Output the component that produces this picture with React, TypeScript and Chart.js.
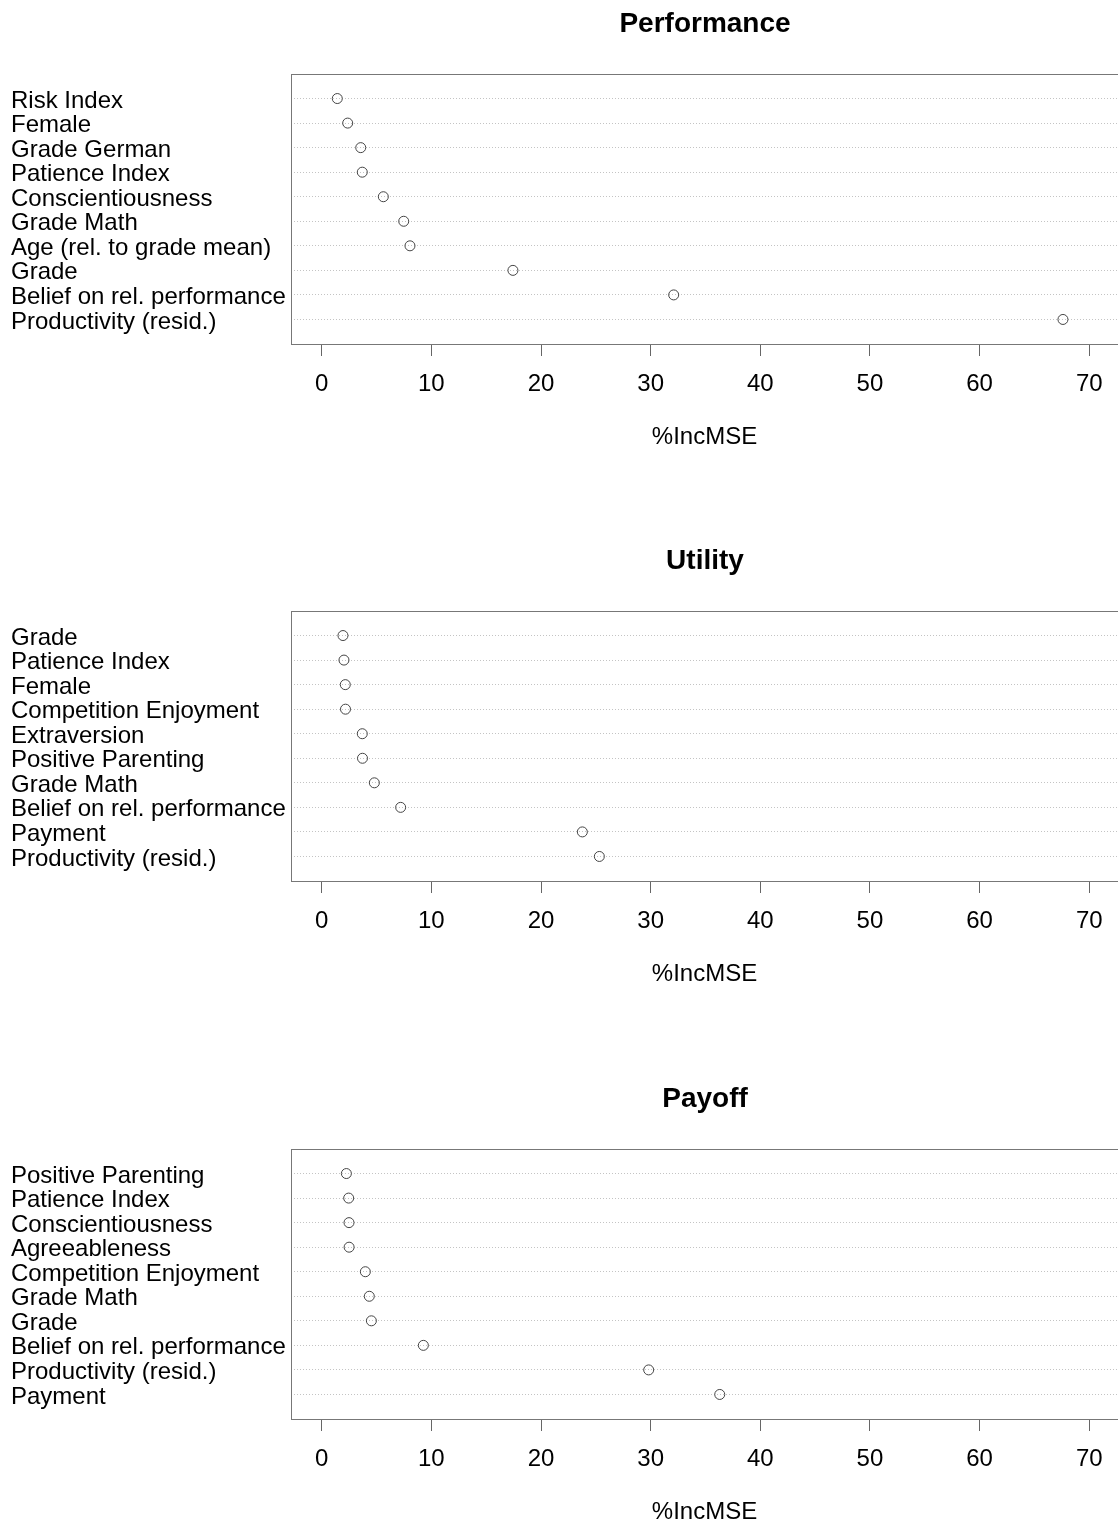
import React, { useEffect, useRef } from "react";
import { Chart, registerables } from "chart.js";

Chart.register(...registerables);

const FONT = "'Liberation Sans', Arial, Helvetica, sans-serif";

const xTickValues = [0, 10, 20, 30, 40, 50, 60, 70];
const xAxisTitle = "%IncMSE";

const perfTitle = "Performance";
const perfLabels = [
  "Risk Index",
  "Female",
  "Grade German",
  "Patience Index",
  "Conscientiousness",
  "Grade Math",
  "Age (rel. to grade mean)",
  "Grade",
  "Belief on rel. performance",
  "Productivity (resid.)",
];
const perfValues = [1.42, 2.37, 3.56, 3.7, 5.62, 7.48, 8.05, 17.44, 32.1, 67.6];

const utilTitle = "Utility";
const utilLabels = [
  "Grade",
  "Patience Index",
  "Female",
  "Competition Enjoyment",
  "Extraversion",
  "Positive Parenting",
  "Grade Math",
  "Belief on rel. performance",
  "Payment",
  "Productivity (resid.)",
];
const utilValues = [1.94, 2.03, 2.15, 2.17, 3.7, 3.72, 4.8, 7.2, 23.77, 25.32];

const payTitle = "Payoff";
const payLabels = [
  "Positive Parenting",
  "Patience Index",
  "Conscientiousness",
  "Agreeableness",
  "Competition Enjoyment",
  "Grade Math",
  "Grade",
  "Belief on rel. performance",
  "Productivity (resid.)",
  "Payment",
];
const payValues = [2.25, 2.46, 2.49, 2.5, 3.98, 4.34, 4.53, 9.27, 29.82, 36.3];

const CANVAS_W = 1118;
const CANVAS_H = 474;

function boxPlugin(title: string) {
  return {
    id: "boxAndTitle",
    afterDraw(chart: any) {
      const { ctx, chartArea } = chart;
      ctx.save();
      ctx.strokeStyle = "#777";
      ctx.lineWidth = 1;
      // plot frame; its right side lies just past the canvas edge, as in the reference
      ctx.strokeRect(
        Math.round(chartArea.left) + 0.5,
        Math.round(chartArea.top) + 0.5,
        Math.round(chartArea.right - chartArea.left),
        Math.round(chartArea.bottom - chartArea.top)
      );
      ctx.fillStyle = "#000";
      ctx.font = `bold 28px ${FONT}`;
      ctx.textAlign = "center";
      ctx.textBaseline = "middle";
      ctx.fillText(title, (chartArea.left + chartArea.right + 1) / 2, 24);
      ctx.restore();
    },
  };
}

function Panel({ title, labels, values, top }: { title: string; labels: string[]; values: number[]; top: number }) {
  const ref = useRef<HTMLCanvasElement>(null);
  useEffect(() => {
    const chart = new Chart(ref.current as HTMLCanvasElement, {
      type: "scatter",
      data: {
        datasets: [
          {
            data: values.map((v, i) => ({ x: v, y: i + 1 })),
            pointStyle: "circle",
            pointRadius: 5,
            pointBorderWidth: 1,
            borderColor: "#444",
            backgroundColor: "rgba(0,0,0,0)",
            pointBackgroundColor: "rgba(0,0,0,0)",
            pointBorderColor: "#444",
          } as any,
        ],
      },
      options: {
        animation: false,
        responsive: false,
        devicePixelRatio: 1,
        layout: { autoPadding: false, padding: { top: 74, left: 11, right: 0, bottom: 0 } },
        plugins: {
          legend: { display: false },
          tooltip: { enabled: false },
          title: { display: false },
        },
        scales: {
          x: {
            type: "linear",
            min: -2.8,
            max: 72.62,
            afterBuildTicks: (s: any) => {
              s.ticks = xTickValues.map((v) => ({ value: v }));
            },
            afterFit: (s: any) => {
              s.height = CANVAS_H - 344;
              s.paddingLeft = 0;
              s.paddingRight = 0;
            },
            grid: {
              drawOnChartArea: false,
              drawTicks: true,
              tickLength: 12,
              color: "#666",
              tickColor: "#666",
              lineWidth: 1,
            },
            border: { display: false },
            ticks: {
              font: { family: FONT, size: 24 },
              color: "#000",
              padding: 14,
              maxRotation: 0,
              autoSkip: false,
            },
            title: {
              display: true,
              text: xAxisTitle,
              font: { family: FONT, size: 24 },
              color: "#000",
              padding: { top: 0, bottom: 22 },
            },
          },
          y: {
            type: "linear",
            min: 0,
            max: 11,
            reverse: true,
            afterBuildTicks: (s: any) => {
              s.ticks = labels.map((_, i) => ({ value: i + 1 }));
            },
            afterFit: (s: any) => {
              s.width = 280;
              s.paddingTop = 0;
              s.paddingBottom = 0;
            },
            ticks: {
              callback: (v: any) => labels[Number(v) - 1] ?? "",
              crossAlign: "far",
              font: { family: FONT, size: 24 },
              color: "#000",
              autoSkip: false,
              padding: 0,
              labelOffset: 2.5,
            },
            grid: { color: "#c4c4c4", lineWidth: 1, drawTicks: false },
            border: { display: false, dash: [1, 2] },
          },
        },
      } as any,
      plugins: [boxPlugin(title)],
    });
    return () => chart.destroy();
  }, []);
  return (
    <div style={{ position: "absolute", left: 0, top, width: CANVAS_W, height: CANVAS_H }}>
      <canvas ref={ref} width={CANVAS_W} height={CANVAS_H} style={{ width: CANVAS_W, height: CANVAS_H, display: "block" }} />
    </div>
  );
}

export default function App() {
  useEffect(() => {
    document.body.style.margin = "0";
    document.body.style.overflow = "hidden";
  }, []);
  return (
    <div style={{ position: "relative", width: 1118, height: 1521, overflow: "hidden", background: "#fff" }}>
      <Panel title={perfTitle} labels={perfLabels} values={perfValues} top={0} />
      <Panel title={utilTitle} labels={utilLabels} values={utilValues} top={537} />
      <Panel title={payTitle} labels={payLabels} values={payValues} top={1075} />
    </div>
  );
}
